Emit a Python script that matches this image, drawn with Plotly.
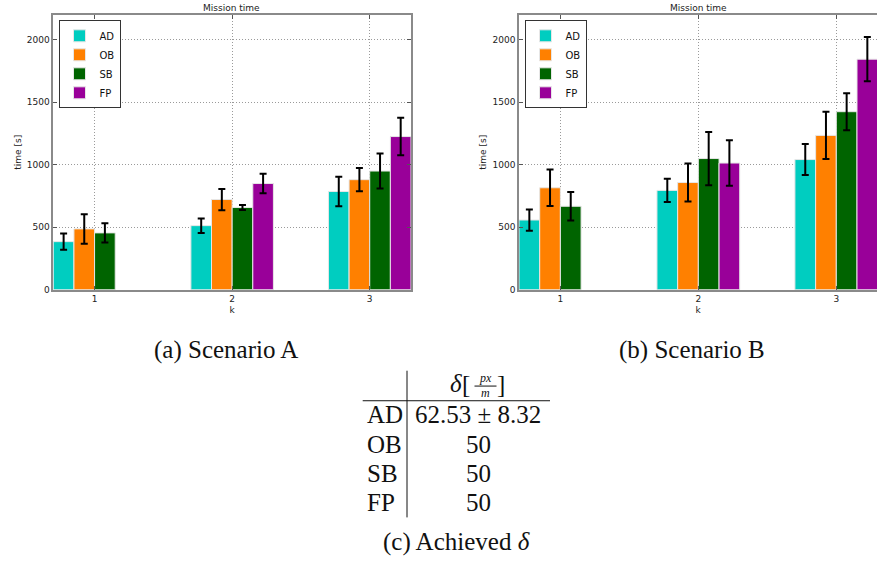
import plotly.graph_objects as go

W, H = 877, 568

k_values = [1, 2, 3]
series = ["AD", "OB", "SB", "FP"]
colors = {"AD": "#00CDC0", "OB": "#FF8000", "SB": "#006400", "FP": "#990099"}

# Scenario A (mean, std) per k
a_mean = {"AD": [385, 513, 786], "OB": [487, 722, 881], "SB": [455, 658, 950], "FP": [None, 850, 1226]}
a_err = {"AD": [66, 58, 118], "OB": [118, 85, 93], "SB": [77, 20, 140], "FP": [None, 78, 150]}
# Scenario B
b_mean = {"AD": [558, 795, 1042], "OB": [816, 858, 1235], "SB": [668, 1050, 1425], "FP": [None, 1014, 1845]}
b_err = {"AD": [85, 93, 124], "OB": [146, 152, 189], "SB": [114, 213, 148], "FP": [None, 182, 177]}

y_ticks = [0, 500, 1000, 1500, 2000]

table_rows = ["AD", "OB", "SB", "FP"]
table_vals = ["62.53 ± 8.32", "50", "50", "50"]

fig = go.Figure()

def px_x(p):
    return p / W

def px_y(p):
    return 1 - p / H

for idx, (means, errs) in enumerate([(a_mean, a_err), (b_mean, b_err)]):
    xa = "x" if idx == 0 else "x2"
    ya = "y" if idx == 0 else "y2"
    lg = "legend" if idx == 0 else "legend2"
    for s in series:
        fig.add_trace(go.Bar(
            x=k_values, y=means[s], name=s,
            marker=dict(color=colors[s], line=dict(color="#e6e6e6", width=1)),
            error_y=dict(type="data", array=errs[s], color="black", thickness=2, width=3.5),
            xaxis=xa, yaxis=ya, legend=lg, showlegend=True, hoverinfo="skip",
        ))

small = dict(family="DejaVu Sans", size=9, color="#222")

axis_common = dict(
    showline=True, linecolor="#8a8a8a", linewidth=1.5,
    ticks="inside", ticklen=4, tickcolor="#555",
    showgrid=True, gridcolor="#9a9a9a", griddash="1px,2px", gridwidth=1,
    zeroline=False,
    tickfont=dict(family="DejaVu Sans", size=9, color="#222"),
)

leg_common = dict(xanchor="left", yanchor="top",
                  bgcolor="white", bordercolor="#333", borderwidth=1,
                  font=dict(family="DejaVu Sans", size=10, color="#111"),
                  tracegroupgap=0, itemwidth=30)

xt = dict(text="k", font=small, standoff=3)
yt = dict(text="time [s]", font=small, standoff=4)

fig.update_layout(
    width=W, height=H,
    margin=dict(l=0, r=0, t=0, b=0),
    paper_bgcolor="white", plot_bgcolor="white",
    barmode="group", bargap=0.4, bargroupgap=0,
    hovermode=False,
    xaxis=dict(domain=[px_x(53.3), px_x(411)], range=[0.7, 3.3], tickvals=k_values,
               mirror="ticks", anchor="y", title=xt, **axis_common),
    yaxis=dict(domain=[px_y(292.3), px_y(15)], range=[0, 2200], tickvals=y_ticks,
               mirror="ticks", anchor="x", title=yt, **axis_common),
    xaxis2=dict(domain=[px_x(519), 1.0], range=[0.7, 3.295], tickvals=k_values,
                mirror="ticks", anchor="y2", title=xt, **axis_common),
    yaxis2=dict(domain=[px_y(292.3), px_y(15)], range=[0, 2200], tickvals=y_ticks,
                mirror=False, anchor="x2", title=yt, **axis_common),
    legend=dict(x=px_x(58.5), y=px_y(20.5), **leg_common),
    legend2=dict(x=px_x(524.5), y=px_y(20.5), **leg_common),
    showlegend=True,
)

ann = []

def add_text(text, x, y, font, xanchor="center", **kw):
    ann.append(dict(text=text, x=px_x(x), y=px_y(y), xref="paper", yref="paper",
                    xanchor=xanchor, yanchor="middle", showarrow=False, font=font, **kw))

for cx in [232, 698]:
    add_text("Mission time", cx, 8.5, small)

serif = "Liberation Serif"
cap = dict(family=serif, size=25, color="#111")
frac = dict(family=serif, size=12, color="#111")
add_text("(a) Scenario A", 225.5, 353, cap)
add_text("(b) Scenario B", 692, 353, cap)
add_text("(c) Achieved <i>δ</i>", 456.7, 547, cap)

# table header
add_text("<i>δ</i>", 455.5, 387, cap)
add_text("[", 466, 388, cap)
add_text("]", 501, 388, cap)
add_text("<i>px</i>", 485.5, 381, frac)
add_text("<i>m</i>", 485.5, 396.5, frac)

row_y = [418.5, 448, 477.5, 507]
for name, val, ry in zip(table_rows, table_vals, row_y):
    add_text(name, 365, ry, cap, xanchor="left")
    add_text(val, 478, ry, cap)

fig.update_layout(annotations=ann)

shapes = [
    dict(type="line", xref="paper", yref="paper", x0=px_x(407), x1=px_x(407),
         y0=px_y(374), y1=px_y(522), line=dict(color="#111", width=1)),
    dict(type="line", xref="paper", yref="paper", x0=px_x(362.7), x1=px_x(550),
         y0=px_y(404.3), y1=px_y(404.3), line=dict(color="#111", width=1)),
    dict(type="line", xref="paper", yref="paper", x0=px_x(474.5), x1=px_x(496.5),
         y0=px_y(389.5), y1=px_y(389.5), line=dict(color="#111", width=1)),
]
fig.update_layout(shapes=shapes)

fig.write_html("out.html", config={"displayModeBar": False},
               post_script="document.body.style.margin='0';document.body.style.overflow='hidden';")
